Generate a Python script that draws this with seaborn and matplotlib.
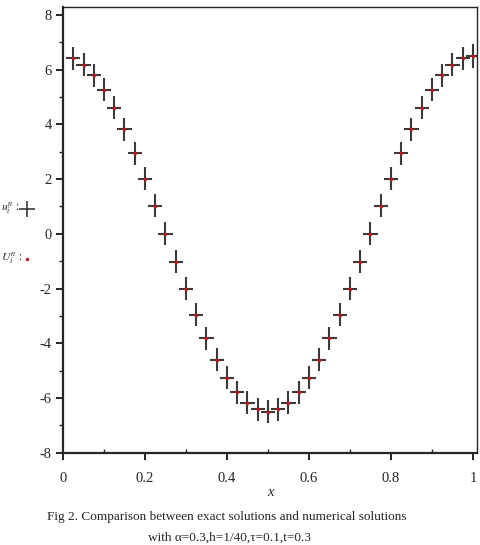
import numpy as np
import matplotlib
matplotlib.use("Agg")
import matplotlib.pyplot as plt
import seaborn as sns
import pandas as pd
from matplotlib.path import Path

# grid points x_i = i/40 and values
x_vals = [0.025, 0.05, 0.075, 0.1, 0.125, 0.15, 0.175, 0.2, 0.225, 0.25,
          0.275, 0.3, 0.325, 0.35, 0.375, 0.4, 0.425, 0.45, 0.475, 0.5,
          0.525, 0.55, 0.575, 0.6, 0.625, 0.65, 0.675, 0.7, 0.725, 0.75,
          0.775, 0.8, 0.825, 0.85, 0.875, 0.9, 0.925, 0.95, 0.975, 1.0]
exact_u = [6.42, 6.18, 5.79, 5.26, 4.60, 3.82, 2.95, 2.01, 1.02, 0.0,
           -1.02, -2.01, -2.95, -3.82, -4.60, -5.26, -5.79, -6.18, -6.42, -6.50,
           -6.42, -6.18, -5.79, -5.26, -4.60, -3.82, -2.95, -2.01, -1.02, 0.0,
           1.02, 2.01, 2.95, 3.82, 4.60, 5.26, 5.79, 6.18, 6.42, 6.50]
numeric_u = list(exact_u)

y_ticks = [8, 6, 4, 2, 0, -2, -4, -6, -8]
y_tick_labels = ["8", "6", "4", "2", "0", "-2", "-4", "-6", "-8"]
x_ticks = [0, 0.2, 0.4, 0.6, 0.8, 1]
x_tick_labels = ["0", "0.2", "0.4", "0.6", "0.8", "1"]

df = pd.DataFrame({"x": x_vals, "exact": exact_u, "numeric": numeric_u})

sns.set_style("ticks")
plt.rcParams["font.family"] = ["Liberation Serif", "DejaVu Serif"]
plt.rcParams["mathtext.fontset"] = "stix"

# tall cross marker like the maple output
cross = Path([(-0.62, 0), (0.62, 0), (0, -1), (0, 1)],
             [Path.MOVETO, Path.LINETO, Path.MOVETO, Path.LINETO])

fig = plt.figure(figsize=(4.81, 5.45), dpi=100)
ax = fig.add_axes([0.131, 0.1694, 0.8607, 0.8177])

sns.scatterplot(data=df, x="x", y="exact", marker=cross, s=275,
                facecolor="none", edgecolor="#3a3a3a", linewidth=1.5,
                ax=ax, legend=False, zorder=2)
sns.scatterplot(data=df, x="x", y="numeric", color="#d01010", s=6,
                linewidth=0, ax=ax, legend=False, zorder=3)

ax.set_xlim(0, 1.01)
ax.set_ylim(-8, 8.29)
ax.set_xticks(x_ticks)
ax.set_xticklabels(x_tick_labels)
ax.set_yticks(y_ticks)
ax.set_yticklabels(y_tick_labels)
ax.set_xticks([0.1, 0.3, 0.5, 0.7, 0.9], minor=True)
ax.set_yticks([7, 5, 3, 1, -1, -3, -5, -7], minor=True)
ax.tick_params(axis="both", which="major", labelsize=10.5, length=5, width=1.2,
               color="black")
ax.tick_params(axis="x", which="major", pad=9)
ax.tick_params(axis="y", which="major", pad=3)
ax.tick_params(axis="x", which="minor", direction="in", length=3, width=1.0)
ax.tick_params(axis="y", which="minor", length=3, width=1.0)

for side in ["top", "right"]:
    ax.spines[side].set_linewidth(1.0)
for side in ["left", "bottom"]:
    ax.spines[side].set_linewidth(1.6)

ax.set_xlabel("")
ax.set_ylabel("")
fig.text(0.563, 0.097, "x", style="italic", fontsize=10.5, ha="center", va="center")

# legend at the left edge, outside the axes
fig.text(0.003, 0.617, r"$u_i^n$ :", fontsize=8.5, va="center", ha="left")
fig.text(0.003, 0.527, r"$U_i^n$ :", fontsize=8.5, va="center", ha="left")
fig.add_artist(plt.Line2D([0.056], [0.617], marker="+", markersize=11,
                          color="#3a3a3a", markeredgewidth=1.2,
                          transform=fig.transFigure))
fig.add_artist(plt.Line2D([0.056], [0.525], marker="o", markersize=2.4,
                          color="#d01010", markeredgewidth=0,
                          transform=fig.transFigure))

fig.text(0.472, 0.051, "Fig 2. Comparison between exact solutions and numerical solutions",
         ha="center", va="center", fontsize=9.5)
fig.text(0.478, 0.013, "with α=0.3,h=1/40,τ=0.1,t=0.3",
         ha="center", va="center", fontsize=9.5)

fig.savefig("out.png", dpi=100)
